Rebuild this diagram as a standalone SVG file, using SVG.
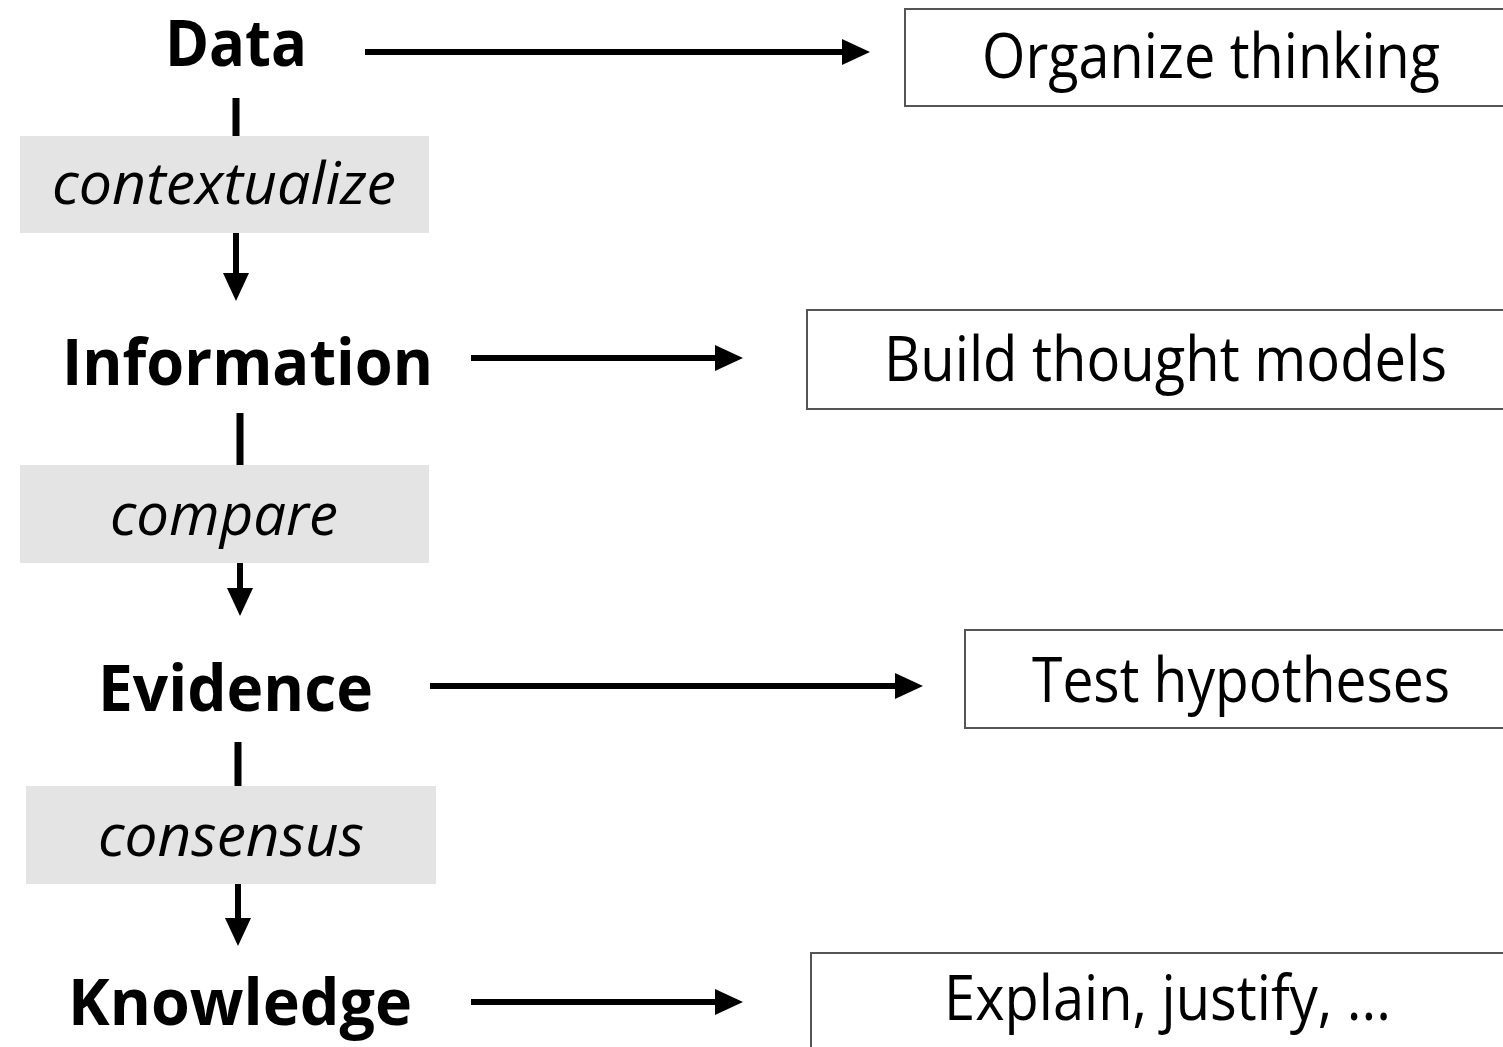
<svg xmlns="http://www.w3.org/2000/svg" width="1503" height="1047" viewBox="0 0 1503 1047">
<style>
.t{font-family:"Open Sans","Noto Sans","Liberation Sans",sans-serif;fill:#000}
.b{font-weight:bold;font-size:64px}
.i{font-style:italic;font-size:58px}
.r{font-size:62px}
.box{fill:#fff;stroke:#555;stroke-width:2}
.lab{fill:#e4e4e4}
.c{stroke:#000;stroke-width:6;fill:none}
.s{stroke:#000;stroke-width:7;fill:none}
</style>
<defs>
<marker id="ah" markerUnits="userSpaceOnUse" markerWidth="30" markerHeight="28" refX="18" refY="13" orient="auto">
<path d="M0,0 L28,13 L0,26 Z" fill="#000"/>
</marker>
</defs>
<g id="connectors">
<line class="c" x1="365" y1="52" x2="860" y2="52" marker-end="url(#ah)"/>
<line class="c" x1="471" y1="358" x2="733" y2="358" marker-end="url(#ah)"/>
<line class="c" x1="430" y1="686" x2="913" y2="686" marker-end="url(#ah)"/>
<line class="c" x1="471" y1="1002" x2="733" y2="1002" marker-end="url(#ah)"/>
<line class="s" x1="236" y1="98" x2="236" y2="136"/>
<line class="c" x1="236" y1="233" x2="236" y2="291" marker-end="url(#ah)"/>
<line class="s" x1="240" y1="413" x2="240" y2="465"/>
<line class="c" x1="240" y1="563" x2="240" y2="606" marker-end="url(#ah)"/>
<line class="s" x1="238" y1="742" x2="238" y2="786"/>
<line class="c" x1="238" y1="884" x2="238" y2="936" marker-end="url(#ah)"/>
</g>
<g id="data"><text class="t b" x="165" y="66" textLength="142" lengthAdjust="spacingAndGlyphs">Data</text></g>
<g id="information"><text class="t b" x="62" y="385" textLength="371" lengthAdjust="spacingAndGlyphs">Information</text></g>
<g id="evidence"><text class="t b" x="98" y="711" textLength="275" lengthAdjust="spacingAndGlyphs">Evidence</text></g>
<g id="knowledge"><text class="t b" x="68" y="1025" textLength="344" lengthAdjust="spacingAndGlyphs">Knowledge</text></g>
<g id="contextualize"><rect class="lab" x="20" y="136" width="409" height="97"/><text class="t i" x="52" y="204" textLength="344" lengthAdjust="spacingAndGlyphs">contextualize</text></g>
<g id="compare"><rect class="lab" x="20" y="465" width="409" height="98"/><text class="t i" x="110" y="535" textLength="228" lengthAdjust="spacingAndGlyphs">compare</text></g>
<g id="consensus"><rect class="lab" x="26" y="786" width="410" height="98"/><text class="t i" x="98" y="856" textLength="266" lengthAdjust="spacingAndGlyphs">consensus</text></g>
<g id="organize"><rect class="box" x="905" y="9" width="610" height="97"/><text class="t r" x="982" y="78" textLength="458" lengthAdjust="spacingAndGlyphs">Organize thinking</text></g>
<g id="build"><rect class="box" x="807" y="310" width="710" height="99"/><text class="t r" x="884" y="381" textLength="563" lengthAdjust="spacingAndGlyphs">Build thought models</text></g>
<g id="test"><rect class="box" x="965" y="630" width="550" height="98"/><text class="t r" x="1032" y="702" textLength="418" lengthAdjust="spacingAndGlyphs">Test hypotheses</text></g>
<g id="explain"><rect class="box" x="811" y="953" width="710" height="110"/><text class="t r" x="944" y="1020" textLength="447" lengthAdjust="spacingAndGlyphs">Explain, justify, ...</text></g>
</svg>
